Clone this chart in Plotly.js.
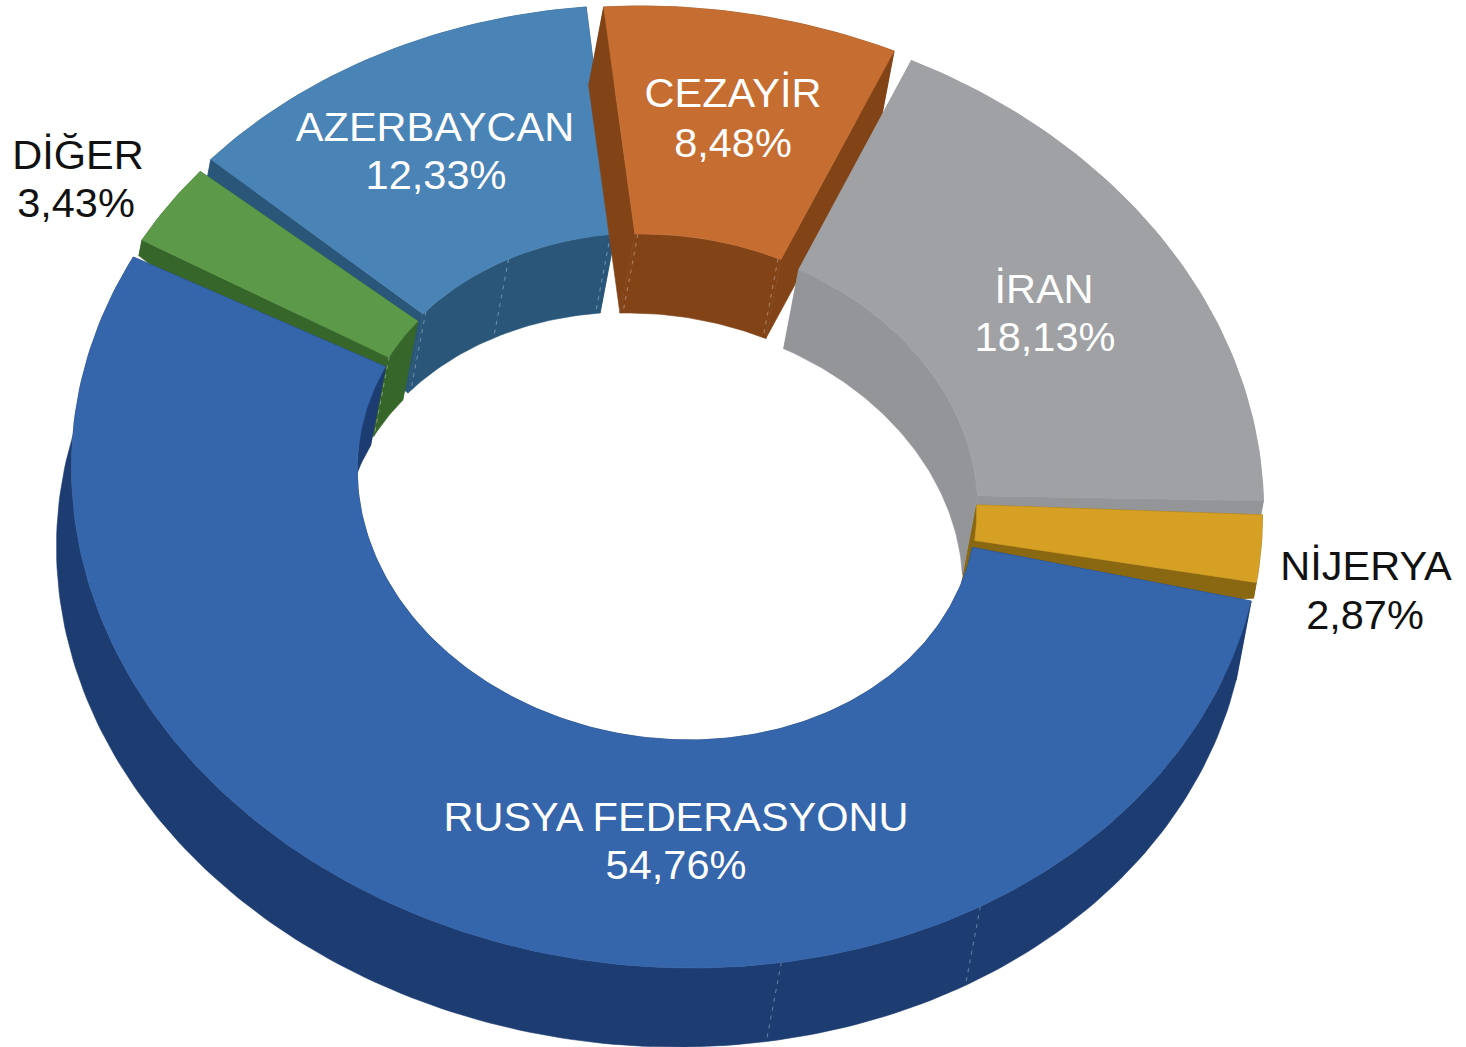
<!DOCTYPE html>
<html><head><meta charset="utf-8">
<script src="https://cdn.plot.ly/plotly-3.0.1.min.js"></script>
<style>html,body{margin:0;padding:0;background:#fff}#c{width:1466px;height:1047px}</style>
</head><body><div id="c"></div>
<script>
// Data, clockwise from the top of the ring
const names = ['CEZAYİR','İRAN','NİJERYA','RUSYA FEDERASYONU','DİĞER','AZERBAYCAN'];
const shares = [8.48,18.13,2.87,54.76,3.43,12.33];
const shareLabels = ['8,48%','18,13%','2,87%','54,76%','3,43%','12,33%'];
// Styling
const topColors = ['#c66e32','#a0a1a4','#d5a024','#3565aa','#5c9a4a','#4a83b5'];
const sideColors = ['#824317','#949598','#8a6812','#1c3c72','#37662a','#2a5779'];
const textColors = ['#ffffff','#ffffff','#111111','#ffffff','#111111','#ffffff'];
const nameX = [733,1044,1366,676,78,435];
const nameY = [97,293,570,821,159,131];
const pctX = [733,1045,1365,676,76,436];
const pctY = [147,341,619,869,207,179];
const offX = [0,3,2,2,0,0];
const offY = [-2,2,6,0,-1,-3];
const trimStart = [1,0.5,1.2,2,2.2,1.6];
const trimEnd = [1,0,1,0,0,0.7];
const innerShiftStart = [2,2.5,0,0,0,0];
const innerShiftEnd = [1,0,0,0,0,0];
const outerDepth = [1,1,0.2,1,0.2,1];
const paintOrder = [5,0,1,4,2,3];
const startAngle = -4.5;
const geo = {cx:665,cy:488,rxO:595,ryO:480,rxI:309,ryI:252,dx:-15,dy:79,skewO:25,skewI:22};
const seams = [[5,'i',0.02],[5,'i',0.5],[5,'i',0.98],[0,'i',0.02],[0,'i',0.98],[4,'i',0.02],[3,'o',0.347],[3,'o',0.241]];

const rad = d => d*Math.PI/180;
function pt(t,i,kind,sweep){
  const o = kind==='o';
  const rx = o?geo.rxO:geo.rxI, ry = o?geo.ryO:geo.ryI, sk = o?geo.skewO:geo.skewI;
  const s = sweep*(o?outerDepth[i]:1);
  return [geo.cx+offX[i]+rx*Math.sin(rad(t))-sk*Math.cos(rad(t))+s*geo.dx,
          geo.cy+offY[i]-ry*Math.cos(rad(t))+s*geo.dy];
}
function arc(a,b,i,kind,sweep){
  const n=Math.max(2,Math.ceil(Math.abs(b-a))), p=[];
  for(let k=0;k<=n;k++) p.push(pt(a+(b-a)*k/n,i,kind,sweep));
  return p;
}
function poly(points,color){
  const c=points.concat([points[0]]);
  return {type:'scatter',mode:'lines',x:c.map(q=>q[0]),y:c.map(q=>q[1]),fill:'toself',
    fillcolor:color,line:{color:color,width:0.6},hoverinfo:'skip',showlegend:false};
}
const starts=[];let acc=startAngle;
shares.forEach(v=>{starts.push(acc);acc+=v*3.6;});
const traces=[];
paintOrder.forEach(i=>{
  const a=starts[i]+trimStart[i],b=starts[i]+shares[i]*3.6-trimEnd[i],side=sideColors[i];
  const ia=a+innerShiftStart[i],ib=b+innerShiftEnd[i];
  traces.push(poly(arc(a,b,i,'o',0).concat(arc(b,a,i,'o',1)),side));
  traces.push(poly(arc(ia,ib,i,'i',0).concat(arc(ib,ia,i,'i',1)),side));
  [[a,ia],[b,ib]].forEach(e=>traces.push(poly([pt(e[1],i,'i',0),pt(e[0],i,'o',0),pt(e[0],i,'o',1),pt(e[1],i,'i',1)],side)));
  seams.filter(s=>s[0]===i).forEach(s=>{
    const t=s[1]==='i'?ia+(ib-ia)*s[2]:a+(b-a)*s[2],p=pt(t,i,s[1],0),q=pt(t,i,s[1],1);
    traces.push({type:'scatter',mode:'lines',x:[p[0],q[0]],y:[p[1],q[1]],
      line:{color:'rgba(255,255,255,0.35)',width:1,dash:'4px,5px'},hoverinfo:'skip',showlegend:false});
  });
  traces.push(poly(arc(a,b,i,'o',0).concat(arc(ib,ia,i,'i',0)),topColors[i]));
});
[[nameX,nameY,names],[pctX,pctY,shareLabels]].forEach(g=>traces.push({type:'scatter',mode:'text',x:g[0],y:g[1],
  text:g[2],textposition:'middle center',
  textfont:{family:'"Liberation Sans",Arial,sans-serif',size:41.5,color:textColors},
  hoverinfo:'skip',showlegend:false}));
Plotly.newPlot('c',traces,{
  width:1466,height:1047,margin:{l:0,r:0,t:0,b:0},paper_bgcolor:'#fff',plot_bgcolor:'#fff',showlegend:false,
  xaxis:{range:[0,1466],visible:false,fixedrange:true},
  yaxis:{range:[1047,0],visible:false,fixedrange:true}
},{staticPlot:true,displayModeBar:false});
</script></body></html>
